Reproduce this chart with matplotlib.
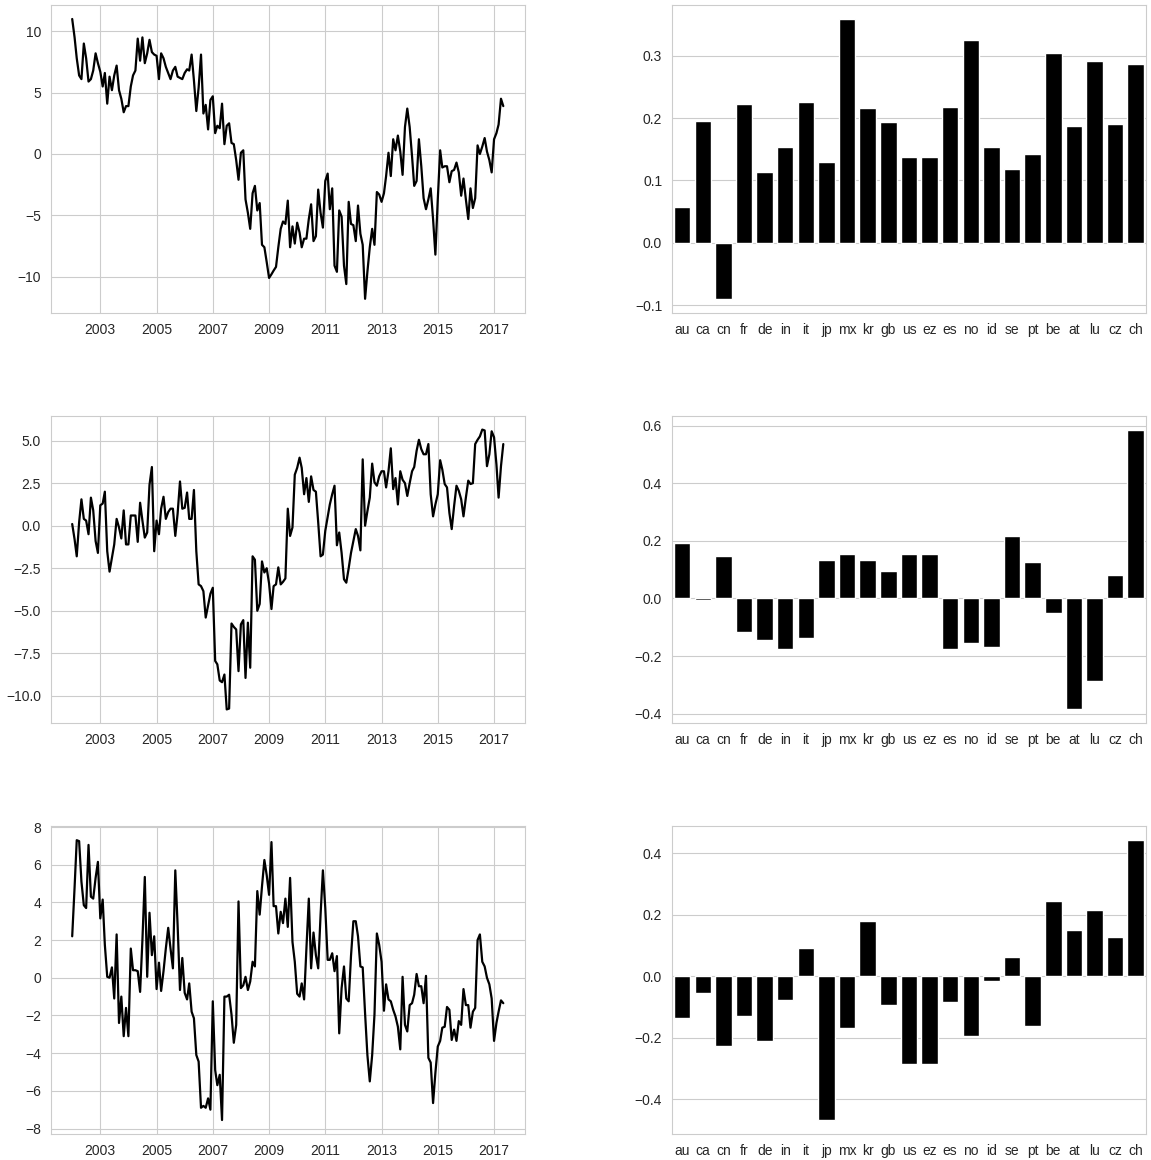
import matplotlib
matplotlib.use("Agg")
import matplotlib.pyplot as plt
import matplotlib.dates as mdates
import seaborn as sns
import pandas as pd

# monthly series, Jan 2002 - May 2017
serie1 = [11.0, 9.5, 7.8, 6.4, 6.1, 9.0, 7.8, 5.9, 6.1, 6.8, 8.2, 7.4,
          6.7, 5.5, 6.6, 4.1, 6.3, 5.2, 6.4, 7.2, 5.2, 4.5, 3.4, 3.9,
          3.9, 5.5, 6.4, 6.8, 9.4, 7.6, 9.5, 7.4, 8.2, 9.3, 8.3, 8.1,
          8.0, 6.1, 8.2, 7.8, 7.1, 6.6, 6.1, 6.8, 7.1, 6.3, 6.2, 6.1,
          6.6, 6.9, 6.8, 8.1, 6.0, 3.5, 5.4, 8.1, 3.3, 4.0, 2.0, 4.4,
          4.7, 1.7, 2.3, 2.1, 4.1, 0.8, 2.3, 2.5, 0.9, 0.8, -0.5, -2.1,
          0.1, 0.3, -3.7, -4.8, -6.1, -3.2, -2.6, -4.6, -4.0, -7.4, -7.6, -8.8,
          -10.1, -9.8, -9.5, -9.2, -7.6, -6.1, -5.5, -5.7, -3.8, -7.6, -5.9, -7.3,
          -5.6, -6.4, -7.6, -6.9, -6.9, -5.3, -4.1, -7.1, -6.7, -2.9, -4.8, -6.0,
          -2.2, -1.6, -4.5, -2.8, -9.1, -9.6, -4.6, -5.1, -9.1, -10.6, -3.9, -5.7,
          -5.8, -7.1, -4.2, -6.5, -7.4, -11.8, -9.6, -7.6, -6.1, -7.4, -3.1, -3.3,
          -3.9, -3.2, -1.8, 0.1, -1.8, 1.2, 0.3, 1.5, 0.2, -1.7, 2.2, 3.7,
          2.2, -0.2, -2.6, -2.2, 1.2, -1.0, -3.6, -4.5, -3.7, -2.8, -5.3, -8.2,
          -3.7, 0.3, -1.1, -1.0, -1.0, -2.3, -1.4, -1.3, -0.7, -1.5, -3.4, -2.0,
          -3.7, -5.3, -2.8, -4.4, -3.6, 0.7, 0.0, 0.6, 1.3, 0.2, -0.5, -1.5,
          1.2, 1.7, 2.4, 4.5, 3.9]

serie2 = [0.1, -0.8, -1.8, 0.2, 1.55, 0.4, 0.3, -0.5, 1.65, 0.9, -0.9, -1.6,
          1.2, 1.3, 2.0, -1.5, -2.7, -1.9, -1.1, 0.4, -0.1, -0.75, 0.9, -1.1,
          -1.1, 0.6, 0.6, 0.6, -0.95, 1.35, 0.3, -0.7, -0.4, 2.4, 3.45, -1.5,
          0.3, -0.5, 1.0, 1.7, 0.4, 0.8, 1.0, 1.0, -0.6, 0.7, 2.6, 1.0,
          1.05, 1.95, 0.4, 0.4, 2.1, -1.5, -3.45, -3.55, -3.85, -5.4, -4.7, -4.0,
          -3.65, -7.95, -8.15, -9.1, -9.2, -8.75, -10.8, -10.75, -5.75, -5.95, -6.1, -8.55,
          -5.8, -5.55, -8.95, -5.7, -8.35, -1.8, -2.0, -5.0, -4.6, -2.1, -2.75, -2.5,
          -3.4, -4.9, -3.55, -3.45, -2.45, -3.45, -3.3, -3.1, 1.0, -0.6, -0.1, 3.0,
          3.4, 4.0, 3.4, 1.85, 2.8, 1.4, 2.9, 2.1, 2.0, 0.2, -1.8, -1.7,
          -0.3, 0.5, 1.25, 1.85, 2.35, -1.15, -0.4, -1.6, -3.15, -3.35, -2.5, -1.6,
          -0.9, -0.2, -0.6, -1.45, 3.9, 0.0, 0.85, 1.65, 3.65, 2.55, 2.35, 2.9,
          3.2, 3.2, 2.25, 3.2, 4.55, 2.15, 2.8, 1.25, 3.2, 2.7, 2.5, 1.75,
          2.5, 3.2, 3.45, 4.4, 5.05, 4.5, 4.2, 4.2, 4.8, 1.85, 0.55, 1.25,
          1.85, 3.85, 3.3, 2.45, 2.25, 0.75, -0.2, 1.15, 2.35, 2.05, 1.55, 0.55,
          1.65, 2.65, 2.45, 2.5, 4.8, 5.05, 5.25, 5.65, 5.6, 3.5, 4.2, 5.55,
          5.2, 3.6, 1.65, 3.5, 4.8]

serie3 = [2.2, 4.8, 7.3, 7.25, 5.1, 3.85, 3.7, 7.05, 4.3, 4.2, 5.3, 6.15,
          3.15, 4.15, 1.75, 0.05, 0.0, 0.55, -1.1, 2.3, -2.4, -1.0, -3.1, -1.6,
          -3.1, 1.55, 0.4, 0.4, 0.35, -0.75, 2.0, 5.35, 0.05, 3.45, 1.2, 2.2,
          -0.6, 0.8, -0.7, 0.35, 1.55, 2.65, 1.55, 0.5, 5.7, 2.8, -0.65, 1.05,
          -0.8, -1.15, -0.3, -1.8, -2.15, -4.1, -4.45, -6.9, -6.8, -6.9, -6.4, -7.0,
          -1.25, -4.9, -5.7, -5.15, -7.55, -1.0, -1.0, -0.9, -1.95, -3.45, -2.5, 4.05,
          -0.55, -0.4, 0.05, -0.65, -0.2, 0.85, 0.6, 4.6, 3.35, 4.85, 6.25, 5.45,
          4.4, 7.2, 3.8, 3.8, 2.35, 3.5, 2.9, 4.2, 2.7, 5.3, 1.9, 0.85,
          -0.85, -1.0, -0.3, -1.15, 1.55, 4.2, 0.5, 2.4, 1.2, 0.5, 3.35, 5.7,
          3.7, 0.95, 0.95, 1.3, 0.35, 1.15, -2.95, -0.55, 0.6, -1.1, -1.25, 1.15,
          3.0, 3.0, 2.2, 0.6, 0.55, -1.9, -4.1, -5.5, -4.1, -1.95, 2.35, 1.75,
          0.85, -1.75, -0.35, -1.15, -1.25, -1.7, -2.05, -2.6, -3.8, 0.05, -2.5, -2.85,
          -1.45, -1.35, -0.9, 0.2, -0.45, -0.45, -1.35, 0.1, -4.25, -4.5, -6.65, -5.05,
          -3.65, -3.35, -2.65, -2.6, -1.55, -1.7, -3.3, -2.75, -3.35, -2.3, -2.5, -0.6,
          -1.45, -1.45, -2.65, -1.8, -1.6, 2.0, 2.3, 0.85, 0.6, 0.0, -0.35, -1.1,
          -3.35, -2.4, -1.8, -1.2, -1.35]

paises = ["au", "ca", "cn", "fr", "de", "in", "it", "jp", "mx", "kr", "gb", "us",
          "ez", "es", "no", "id", "se", "pt", "be", "at", "lu", "cz", "ch"]

cargas1 = [0.057, 0.196, -0.090, 0.222, 0.114, 0.153, 0.225, 0.129, 0.359, 0.216, 0.193, 0.137,
           0.137, 0.217, 0.325, 0.153, 0.118, 0.143, 0.305, 0.187, 0.291, 0.190, 0.286]
cargas2 = [0.191, -0.004, 0.149, -0.117, -0.145, -0.177, -0.136, 0.135, 0.156, 0.135, 0.097, 0.156,
           0.156, -0.177, -0.153, -0.170, 0.218, 0.128, -0.051, -0.385, -0.288, 0.083, 0.586]
cargas3 = [-0.134, -0.055, -0.227, -0.130, -0.211, -0.076, 0.093, -0.467, -0.169, 0.181, -0.094, -0.285,
           -0.285, -0.084, -0.195, -0.014, 0.062, -0.162, 0.245, 0.151, 0.216, 0.129, 0.443]

anos_ticks = [2003, 2005, 2007, 2009, 2011, 2013, 2015, 2017]

sns.set_style("whitegrid")
plt.rcParams["font.family"] = ["Liberation Sans", "DejaVu Sans"]

datas = pd.date_range("2002-01-01", periods=len(serie1), freq="MS")

fig, axes = plt.subplots(3, 2, figsize=(11.51, 11.6), dpi=100)
fig.subplots_adjust(left=0.044, right=0.9957, bottom=0.0224, top=0.9957,
                    wspace=0.31, hspace=0.334)

for i, (serie, cargas) in enumerate(zip([serie1, serie2, serie3], [cargas1, cargas2, cargas3])):
    ax = axes[i, 0]
    ax.plot(datas, serie, color="black", linewidth=1.6)
    ax.set_xticks([pd.Timestamp(f"{a}-01-01") for a in anos_ticks])
    ax.xaxis.set_major_formatter(mdates.DateFormatter("%Y"))

    ax = axes[i, 1]
    ax.bar(range(len(paises)), cargas, width=0.8, color="black")
    ax.set_xticks(range(len(paises)))
    ax.set_xticklabels(paises)
    ax.set_xlim(-0.5, len(paises) - 0.5)
    ax.xaxis.grid(False)

for ax in axes.flat:
    ax.tick_params(labelsize=10, colors="#262626")

plt.savefig("out.png")
